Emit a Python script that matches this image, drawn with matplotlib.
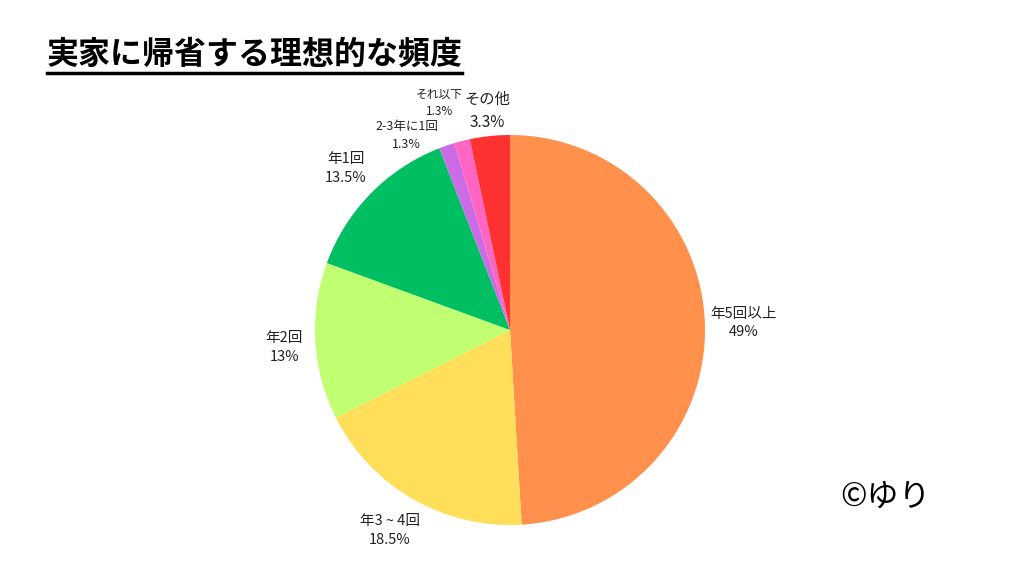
import numpy as np
import matplotlib.pyplot as plt
from matplotlib.lines import Line2D

plt.rcParams['font.family'] = ['Noto Sans CJK JP', 'DejaVu Sans']

labels = ['年5回以上', '年3 ~ 4回', '年2回', '年1回', '2-3年に1回', 'それ以下', 'その他']
pct_text = ['49%', '18.5%', '13%', '13.5%', '1.3%', '1.3%', '3.3%']
values = [49, 18.5, 13, 13.5, 1.3, 1.3, 3.3]
colors = ['#FF914D', '#FFDE59', '#C1FF72', '#00BF63', '#CB6CE6', '#FF66C4', '#FF3131']

# label placement tweaks: radius factor, angle nudge (deg), font size
label_r = [1.2, 1.2, 1.16, 1.18, 1.13, 1.22, 1.13]
label_da = [0, -1, 1, 0, 9, 3, 0]
label_fs = [10.5, 10.5, 10.5, 10.5, 9, 8.5, 11]

fig = plt.figure(figsize=(10.24, 5.76), dpi=100)
ax = fig.add_axes([0, 0, 1, 1])

wedges, _ = ax.pie(values, colors=colors, startangle=90, counterclock=False,
                   radius=1, center=(0, 0), frame=True,
                   wedgeprops=dict(linewidth=0))
ax.set_xlim(-510 / 195, (1024 - 510) / 195)
ax.set_ylim((330 - 576) / 195, 330 / 195)
ax.set_aspect('auto')
ax.axis('off')

for w, lab, p, r, da, fs in zip(wedges, labels, pct_text, label_r, label_da, label_fs):
    ang = np.deg2rad((w.theta1 + w.theta2) / 2 + da)
    ax.text(r * np.cos(ang), r * np.sin(ang), lab + '\n' + p, ha='center', va='center',
            fontsize=fs, linespacing=1.45, color='#222222')

fig.text(47 / 1024, 1 - 55 / 576, '実家に帰省する理想的な頻度', fontsize=23,
         fontweight='bold', ha='left', va='center')
fig.add_artist(Line2D([47 / 1024, 462 / 1024], [1 - 73 / 576, 1 - 73 / 576],
                      color='black', linewidth=2.5, transform=fig.transFigure))
fig.text(885 / 1024, 1 - 497 / 576, '©ゆり', fontsize=23, ha='center', va='center')

fig.savefig('out.png', dpi=100, facecolor='white')
